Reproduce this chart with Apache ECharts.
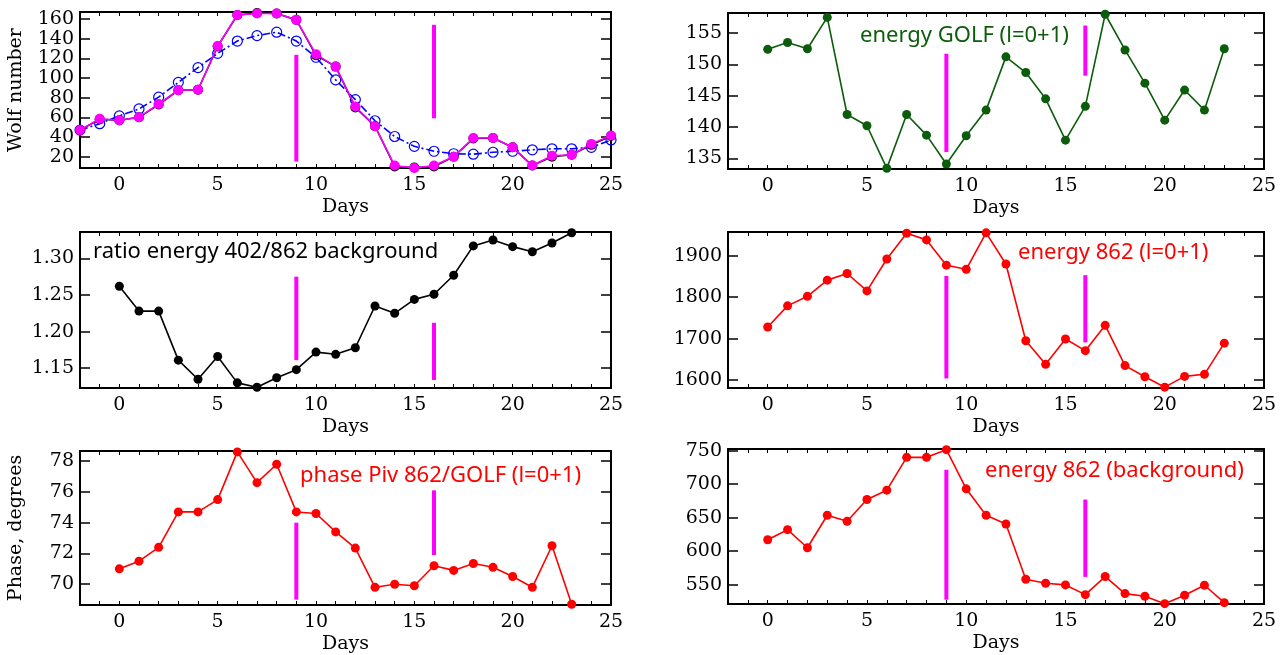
<!DOCTYPE html>
<html><head><meta charset="utf-8">
<script src="https://cdn.jsdelivr.net/npm/echarts@6/dist/echarts.min.js"></script>
<style>html,body{margin:0;padding:0;background:#fff}#c{width:1280px;height:655px}</style>
</head><body><div id="c"></div>
<script>
// ---------- data ----------
const wolfDays = [-2,-1,0,1,2,3,4,5,6,7,8,9,10,11,12,13,14,15,16,17,18,19,20,21,22,23,24,25];
const wolfMagenta = [47,58.5,57,60,73.5,87.5,88,132.5,164,165.5,165.5,159,124,111.5,71,51,11,8.5,11,20,39,39,29.5,11,21,22,33,41.5];
const wolfBlack   = [47,58,57,60,73,87.5,88,132,164,166,165.5,159,123,111.5,70,51,10,9,10,20,38.5,39,29.5,11,20,22,32,41];
const wolfBlue    = [47,53.5,61.5,68.5,80.5,95.5,110.5,125,137.5,143,146.5,137.5,121,98,78,56.5,40.5,30.5,25.5,23,22.5,24.5,25.5,27,28,28,29.5,37];

const days = [0,1,2,3,4,5,6,7,8,9,10,11,12,13,14,15,16,17,18,19,20,21,22,23];
const energyGolf = [152.4,153.5,152.5,157.5,142.0,140.2,133.4,142.0,138.7,134.1,138.6,142.7,151.2,148.7,144.5,137.9,143.3,158.0,152.3,147.0,141.1,145.9,142.7,152.5];
const ratio402862 = [1.262,1.228,1.228,1.161,1.135,1.166,1.130,1.124,1.137,1.148,1.172,1.169,1.178,1.235,1.225,1.244,1.251,1.277,1.317,1.325,1.316,1.309,1.321,1.335];
const energy862 = [1728,1779,1802,1841,1857,1815,1892,1954,1938,1877,1867,1955,1880,1695,1638,1699,1671,1732,1635,1608,1583,1609,1614,1689];
const phasePiv = [71.0,71.5,72.4,74.7,74.7,75.5,78.6,76.6,77.8,74.7,74.6,73.4,72.35,69.8,70.0,69.9,71.2,70.9,71.35,71.1,70.5,69.8,72.5,68.7];
const energy862bg = [617,632,605,653.5,644.5,677,691,740,740,751.5,693,653.5,640.5,558,552,549.5,535,562,536.5,532.5,521.5,534,549,523];

// vertical magenta marks: day position and [low, high] per panel
const markDays = [9, 16];
const markRanges = [
  [[15,123.5],[59,154]],
  [[136,151.7],[148.2,156.2]],
  [[1.161,1.275],[1.134,1.212]],
  [[1604,1851],[1691,1853]],
  [[69.0,74.0],[71.9,76.1]],
  [[527.5,721.5],[561.5,677]]
];

// tick labels
const xTickLabels = [0,5,10,15,20,25];
const xMinorTicks = [-2,-1,0,1,2,3,4,5,6,7,8,9,10,11,12,13,14,15,16,17,18,19,20,21,22,23,24,25];
const yTicks = [
  [20,40,60,80,100,120,140,160],
  [135,140,145,150,155],
  [1.15,1.20,1.25,1.30],
  [1600,1700,1800,1900],
  [70,72,74,76,78],
  [550,600,650,700,750]
];
const yNames = ['Wolf number','','','','Phase, degrees',''];
const annotations = ['', 'energy GOLF (l=0+1)', 'ratio energy 402/862 background', 'energy 862 (l=0+1)', 'phase Piv 862/GOLF (l=0+1)', 'energy 862 (background)'];

// ---------- layout ----------
const rects = [
  {left:80, top:12, width:531, height:156},
  {left:728, top:13, width:536, height:156},
  {left:80, top:232, width:531, height:156},
  {left:728, top:232, width:536, height:156},
  {left:80, top:451, width:531, height:156},
  {left:728, top:449, width:536, height:155}
];
const yRanges = [[8.5,167],[133.3,158.2],[1.123,1.336],[1581,1957],[68.65,78.66],[521,752.5]];
const yFmt = [v=>String(v), v=>String(v), v=>v.toFixed(2), v=>String(v), v=>String(v), v=>String(v)];
const annoPos = [null,[860,25],[93,241],[1018,242],[300,465],[985,460]];
const annoColor = [null,'#0b5c0b','#000000','#ff0000','#ff0000','#ff0000'];

const SERIF = 'DejaVu Serif';
const grids = [], xAxes = [], yAxes = [], series = [], graphics = [];

function zip(xs, ys){ return xs.map((x,i)=>[x, ys[i]]); }

rects.forEach((r, g) => {
  grids.push(Object.assign({containLabel:false}, r));
  const axLine = {show:true, onZero:false, lineStyle:{color:'#000', width:2}};
  xAxes.push({
    gridIndex:g, type:'value', min:-2, max:25, position:'bottom',
    axisLine:axLine,
    axisTick:{show:true, inside:true, length:4, customValues:xMinorTicks, lineStyle:{color:'#000', width:1}},
    axisLabel:{show:true, customValues:xTickLabels, fontFamily:SERIF, fontSize:19, color:'#000', margin:8},
    splitLine:{show:false},
    name:'Days', nameLocation:'middle', nameGap:30,
    nameTextStyle:{fontFamily:SERIF, fontSize:19, color:'#000'}
  });
  xAxes.push({
    gridIndex:g, type:'value', min:-2, max:25, position:'top',
    axisLine:axLine,
    axisTick:{show:true, inside:true, length:4, customValues:xMinorTicks, lineStyle:{color:'#000', width:1}},
    axisLabel:{show:false}, splitLine:{show:false}
  });
  yAxes.push({
    gridIndex:g, type:'value', min:yRanges[g][0], max:yRanges[g][1], position:'left',
    axisLine:axLine,
    axisTick:{show:true, inside:true, length:10, customValues:yTicks[g], lineStyle:{color:'#000', width:1.5}},
    axisLabel:{show:true, customValues:yTicks[g], formatter:yFmt[g], fontFamily:SERIF, fontSize:19, color:'#000', margin:6},
    splitLine:{show:false},
    name:yNames[g], nameLocation:'middle', nameGap:54,
    nameTextStyle:{fontFamily:SERIF, fontSize:19, color:'#000'}
  });
  yAxes.push({
    gridIndex:g, type:'value', min:yRanges[g][0], max:yRanges[g][1], position:'right',
    axisLine:axLine,
    axisTick:{show:true, inside:true, length:10, customValues:yTicks[g], lineStyle:{color:'#000', width:1.5}},
    axisLabel:{show:false}, splitLine:{show:false}
  });
  // magenta vertical marks
  markDays.forEach((d, k) => {
    series.push({
      type:'line', xAxisIndex:2*g, yAxisIndex:2*g, symbol:'none', silent:true, z:5,
      data:[[d, markRanges[g][k][0]],[d, markRanges[g][k][1]]],
      lineStyle:{color:'#ff00ff', width:4, cap:'butt'}
    });
  });
  if (annotations[g]) {
    graphics.push({type:'text', left:annoPos[g][0], top:annoPos[g][1], z:10,
      style:{text:annotations[g], fill:annoColor[g], font:'22px "Noto Sans"'}});
  }
});

function dataSeries(g, xs, ys, color, size){
  return {type:'line', xAxisIndex:2*g, yAxisIndex:2*g, data:zip(xs, ys),
    symbol:'circle', symbolSize:size, clip:true, z:3,
    lineStyle:{color:color, width:1.6}, itemStyle:{color:color}};
}

// panel 1
series.push({type:'line', xAxisIndex:0, yAxisIndex:0, data:zip(wolfDays, wolfBlue),
  symbol:'circle', symbolSize:10, clip:true, z:2,
  lineStyle:{color:'#0000ff', width:1.6, type:[8,3,2,3]},
  itemStyle:{color:'rgba(0,0,0,0)', borderColor:'#0000ff', borderWidth:1.2}});
series.push(dataSeries(0, wolfDays, wolfBlack, '#000000', 10));
series.push(Object.assign(dataSeries(0, wolfDays, wolfMagenta, '#ff00ff', 10), {z:4}));
// others
series.push(dataSeries(1, days, energyGolf, '#0b5c0b', 9));
series.push(dataSeries(2, days, ratio402862, '#000000', 9));
series.push(dataSeries(3, days, energy862, '#ff0000', 9));
series.push(dataSeries(4, days, phasePiv, '#ff0000', 9));
series.push(dataSeries(5, days, energy862bg, '#ff0000', 9));

const chart = echarts.init(document.getElementById('c'), null, {renderer:'canvas'});
chart.setOption({
  animation:false, backgroundColor:'#ffffff',
  grid:grids, xAxis:xAxes, yAxis:yAxes, series:series, graphic:graphics
});
</script></body></html>
